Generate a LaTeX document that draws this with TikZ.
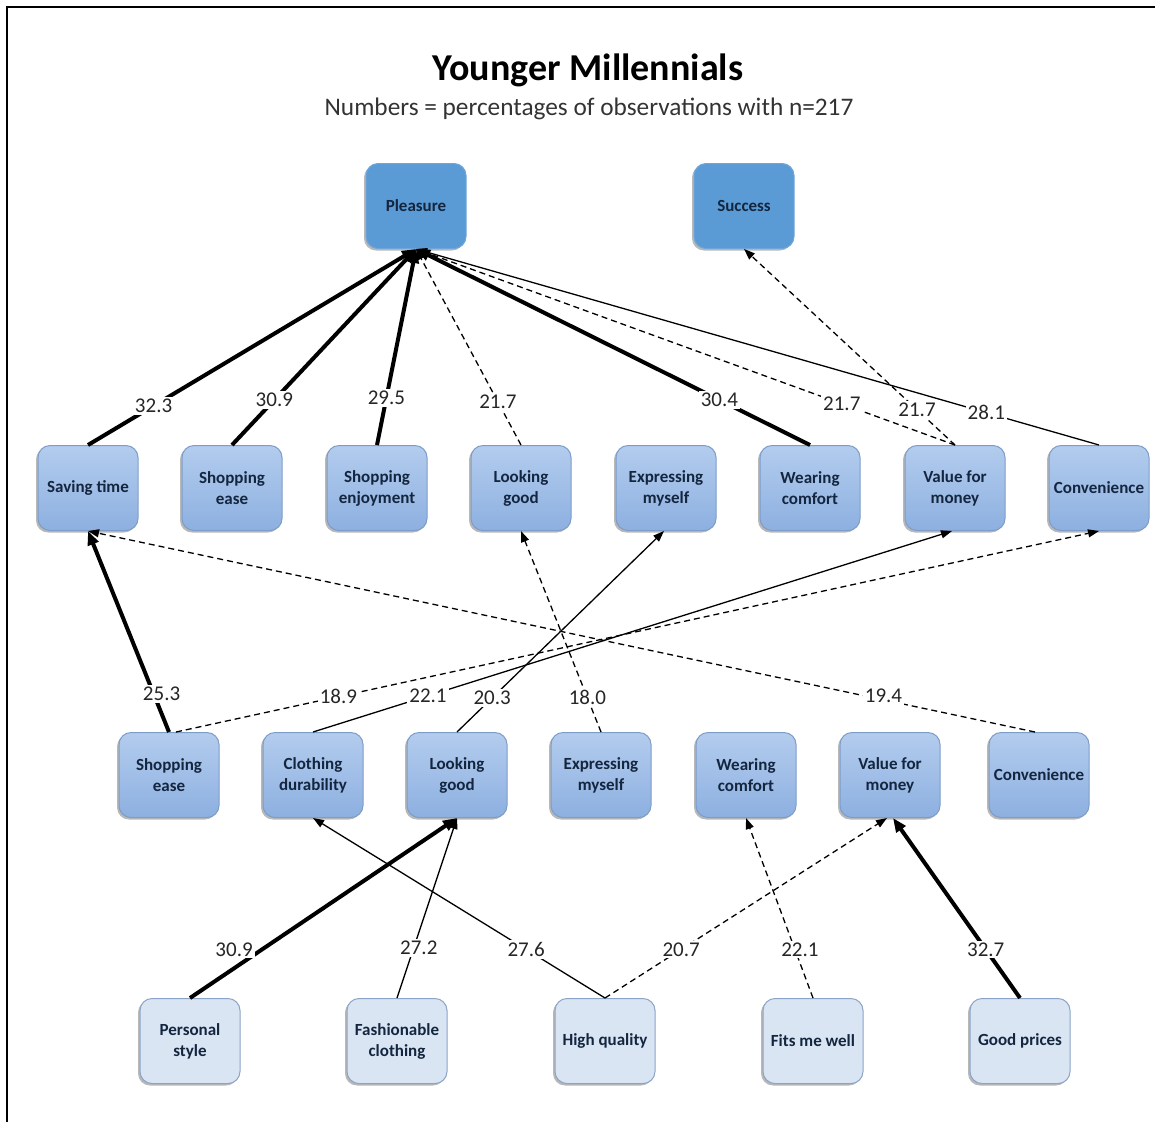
\documentclass[tikz,border=0pt]{standalone}
\usepackage{fontspec}
\setmainfont{Carlito}
\usetikzlibrary{arrows.meta,shadows}

\definecolor{goalfill}{HTML}{5B9BD5}
\definecolor{goaldraw}{HTML}{6EA5DA}
\definecolor{midtop}{HTML}{B3CCEE}
\definecolor{midbot}{HTML}{8DB0E0}
\definecolor{middraw}{HTML}{7D9CC8}
\definecolor{lowfill}{HTML}{DAE5F4}
\definecolor{lowdraw}{HTML}{8BA3C6}
\definecolor{boxtext}{HTML}{14263F}

\tikzset{
  box/.style={rounded corners=12pt, minimum width=100pt, minimum height=85pt,
    align=center, inner sep=0pt, text=boxtext,
    font=\bfseries\fontsize{17}{21}\selectfont,
    drop shadow={shadow xshift=-2pt, shadow yshift=-2pt, opacity=.28, fill=black}},
  goalbox/.style={box, fill=goalfill, draw=goaldraw, line width=1pt},
  midbox/.style={box, top color=midtop, bottom color=midbot, draw=middraw, line width=1pt},
  lowbox/.style={box, fill=lowfill, draw=lowdraw, line width=1pt},
  strong/.style={line width=4pt, -{Triangle[length=14pt,width=11pt]}},
  weak/.style={line width=1.3pt, -{Triangle[length=11pt,width=8pt]}},
  weakd/.style={weak, dash pattern=on 6pt off 4pt},
  lbl/.style={fill=white, inner sep=2pt, text=black!85,
    font=\fontsize{21}{21}\selectfont}
}

\begin{document}
\begin{tikzpicture}[x=1pt,y=-1pt]
\useasboundingbox (0,0) rectangle (1155,1122);

% frame
\draw[line width=2pt] (7,1122) -- (7,7) -- (1155,7);

% heading
\node[anchor=base, font=\bfseries\fontsize{38}{40}\selectfont] (title) at (588,80) {Younger Millennials};
\node[anchor=base, text=black!80, font=\fontsize{25.3}{28}\selectfont] (subtitle) at (589,115) {Numbers = percentages of observations with n=217};

% goals
\node[goalbox] (pl) at (416,206) {Pleasure};
\node[goalbox] (su) at (744,206) {Success};

% upper consequences
\node[midbox] (st2) at (88,488)   {Saving time};
\node[midbox] (se2) at (232,488)  {Shopping\\ease};
\node[midbox] (sj2) at (377,488)  {Shopping\\enjoyment};
\node[midbox] (lg2) at (521,488)  {Looking\\good};
\node[midbox] (ex2) at (666,488)  {Expressing\\myself};
\node[midbox] (wc2) at (810,488)  {Wearing\\comfort};
\node[midbox] (vm2) at (955,488)  {Value for\\money};
\node[midbox] (cv2) at (1099,488) {Convenience};

% lower consequences
\node[midbox] (se3) at (169,775)  {Shopping\\ease};
\node[midbox] (cd3) at (313,775)  {Clothing\\durability};
\node[midbox] (lg3) at (457,775)  {Looking\\good};
\node[midbox] (ex3) at (601,775)  {Expressing\\myself};
\node[midbox] (wc3) at (746,775)  {Wearing\\comfort};
\node[midbox] (vm3) at (890,775)  {Value for\\money};
\node[midbox] (cv3) at (1039,775) {Convenience};

% attributes
\node[lowbox] (ps4) at (190,1041)  {Personal\\style};
\node[lowbox] (fc4) at (397,1041)  {Fashionable\\clothing};
\node[lowbox] (hq4) at (605,1041)  {High quality};
\node[lowbox] (fw4) at (813,1041)  {Fits me well};
\node[lowbox] (gp4) at (1020,1041) {Good prices};

% links to the goals
\draw[strong] (st2.north) -- node[lbl,pos=.2]{32.3} (pl.south);
\draw[strong] (se2.north) -- node[lbl,pos=.23]{30.9} (pl.south);
\draw[strong] (sj2.north) -- node[lbl,pos=.24]{29.5} (pl.south);
\draw[weakd] (lg2.north) -- node[lbl,pos=.22]{21.7} (pl.south);
\draw[strong] (wc2.north) -- node[lbl,pos=.23]{30.4} (pl.south);
\draw[weakd] (vm2.north) -- node[lbl,pos=.21]{21.7} (pl.south);
\draw[weak] (cv2.north) -- node[lbl,pos=.165]{28.1} (pl.south);
\draw[weakd] (vm2.north) -- node[lbl,pos=.18]{21.7} (su.south);

% links between consequences
\draw[strong] (se3.north) -- node[lbl,pos=.19,xshift=8pt]{25.3} (st2.south);
\draw[weakd] ([xshift=7pt]se3.north) -- node[lbl,pos=.176]{18.9} (cv2.south);
\draw[weak] (cd3.north) -- node[lbl,pos=.18]{22.1} ([xshift=-3pt]vm2.south);
\draw[weak] (lg3.north) -- node[lbl,pos=.17]{20.3} ([xshift=-2pt]ex2.south);
\draw[weakd] (ex3.north) -- node[lbl,pos=.17]{18.0} (lg2.south);
\draw[weakd] ([xshift=-4pt]cv3.north) -- node[lbl,pos=.16,yshift=4pt]{19.4} (st2.south);

% links from attributes
\draw[strong] (ps4.north) -- node[lbl,pos=.27,xshift=-28pt]{30.9} (lg3.south);
\draw[weak] (fc4.north) -- node[lbl,pos=.28,xshift=5pt]{27.2} (lg3.south);
\draw[weak] (hq4.north) -- node[lbl,pos=.27]{27.6} (cd3.south);
\draw[weakd] (hq4.north) -- node[lbl,pos=.27]{20.7} ([xshift=-3pt]vm3.south);
\draw[weakd] (fw4.north) -- node[lbl,pos=.27,xshift=5pt]{22.1} (wc3.south);
\draw[strong] (gp4.north) -- node[lbl,pos=.27]{32.7} ([xshift=3pt]vm3.south);
\end{tikzpicture}
\end{document}
